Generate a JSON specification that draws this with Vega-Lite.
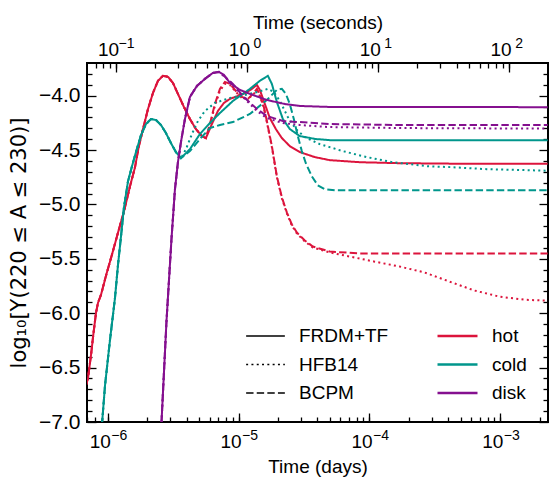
{
"$schema":"https://vega.github.io/schema/vega-lite/v6.json",
"width":461,"height":359,
"autosize":"none",
"padding":{"left":87,"top":63,"right":1,"bottom":58},
"config":{"view":{"stroke":"black","strokeWidth":2},
 "axis":{"grid":false,"domain":false,"labelFont":"Liberation Sans","titleFont":"Liberation Sans","labelFontSize":19,"titleFontSize":19,"titleFontWeight":"normal","labelColor":"black","titleColor":"black","tickColor":"black","tickWidth":1.3,"labelFlush":false,"labelOverlap":false,"labelBound":false},
 "legend":{"labelFont":"Liberation Sans","labelFontSize":19,"labelColor":"black","padding":0}},
"data":{"values":[
{"t":6.83e-7,"y":-6.660,"m":"FRDM+TF","c":"hot"},{"t":7.07e-7,"y":-6.595,"m":"FRDM+TF","c":"hot"},{"t":7.456e-7,"y":-6.383,"m":"FRDM+TF","c":"hot"},{"t":7.723e-7,"y":-6.217,"m":"FRDM+TF","c":"hot"},{"t":8.14e-7,"y":-5.995,"m":"FRDM+TF","c":"hot"},{"t":8.43e-7,"y":-5.904,"m":"FRDM+TF","c":"hot"},{"t":8.89e-7,"y":-5.830,"m":"FRDM+TF","c":"hot"},{"t":9.70e-7,"y":-5.655,"m":"FRDM+TF","c":"hot"},{"t":1.078e-6,"y":-5.461,"m":"FRDM+TF","c":"hot"},{"t":1.199e-6,"y":-5.258,"m":"FRDM+TF","c":"hot"},{"t":1.331e-6,"y":-5.064,"m":"FRDM+TF","c":"hot"},{"t":1.480e-6,"y":-4.833,"m":"FRDM+TF","c":"hot"},{"t":1.616e-6,"y":-4.658,"m":"FRDM+TF","c":"hot"},{"t":1.724e-6,"y":-4.473,"m":"FRDM+TF","c":"hot"},{"t":1.860e-6,"y":-4.307,"m":"FRDM+TF","c":"hot"},{"t":2.031e-6,"y":-4.123,"m":"FRDM+TF","c":"hot"},{"t":2.217e-6,"y":-3.975,"m":"FRDM+TF","c":"hot"},{"t":2.421e-6,"y":-3.864,"m":"FRDM+TF","c":"hot"},{"t":2.643e-6,"y":-3.818,"m":"FRDM+TF","c":"hot"},{"t":2.886e-6,"y":-3.827,"m":"FRDM+TF","c":"hot"},{"t":3.151e-6,"y":-3.883,"m":"FRDM+TF","c":"hot"},{"t":3.440e-6,"y":-3.984,"m":"FRDM+TF","c":"hot"},{"t":3.823e-6,"y":-4.104,"m":"FRDM+TF","c":"hot"},{"t":4.249e-6,"y":-4.215,"m":"FRDM+TF","c":"hot"},{"t":4.721e-6,"y":-4.307,"m":"FRDM+TF","c":"hot"},{"t":5.246e-6,"y":-4.372,"m":"FRDM+TF","c":"hot"},{"t":5.628e-6,"y":-4.390,"m":"FRDM+TF","c":"hot"},
{"t":6.253e-6,"y":-4.261,"m":"FRDM+TF","c":"hot"},{"t":6.950e-6,"y":-4.141,"m":"FRDM+TF","c":"hot"},{"t":7.723e-6,"y":-4.067,"m":"FRDM+TF","c":"hot"},{"t":8.582e-6,"y":-4.030,"m":"FRDM+TF","c":"hot"},{"t":9.878e-6,"y":-4.003,"m":"FRDM+TF","c":"hot"},{"t":1.137e-5,"y":-3.975,"m":"FRDM+TF","c":"hot"},{"t":1.263e-5,"y":-3.938,"m":"FRDM+TF","c":"hot"},{"t":1.379e-5,"y":-3.901,"m":"FRDM+TF","c":"hot"},{"t":1.454e-5,"y":-3.947,"m":"FRDM+TF","c":"hot"},{"t":1.588e-5,"y":-4.077,"m":"FRDM+TF","c":"hot"},{"t":1.733e-5,"y":-4.206,"m":"FRDM+TF","c":"hot"},{"t":1.926e-5,"y":-4.307,"m":"FRDM+TF","c":"hot"},{"t":2.141e-5,"y":-4.390,"m":"FRDM+TF","c":"hot"},{"t":2.463e-5,"y":-4.464,"m":"FRDM+TF","c":"hot"},{"t":2.937e-5,"y":-4.519,"m":"FRDM+TF","c":"hot"},{"t":3.823e-5,"y":-4.565,"m":"FRDM+TF","c":"hot"},{"t":4.977e-5,"y":-4.593,"m":"FRDM+TF","c":"hot"},{"t":8.43e-5,"y":-4.612,"m":"FRDM+TF","c":"hot"},{"t":1.703e-4,"y":-4.621,"m":"FRDM+TF","c":"hot"},{"t":4.102e-4,"y":-4.625,"m":"FRDM+TF","c":"hot"},{"t":2.3e-3,"y":-4.625,"m":"FRDM+TF","c":"hot"},
{"t":6.83e-7,"y":-6.660,"m":"BCPM","c":"hot"},{"t":7.07e-7,"y":-6.595,"m":"BCPM","c":"hot"},{"t":7.456e-7,"y":-6.383,"m":"BCPM","c":"hot"},{"t":7.723e-7,"y":-6.217,"m":"BCPM","c":"hot"},{"t":8.14e-7,"y":-5.995,"m":"BCPM","c":"hot"},{"t":8.43e-7,"y":-5.904,"m":"BCPM","c":"hot"},{"t":8.89e-7,"y":-5.830,"m":"BCPM","c":"hot"},{"t":9.70e-7,"y":-5.655,"m":"BCPM","c":"hot"},{"t":1.078e-6,"y":-5.461,"m":"BCPM","c":"hot"},{"t":1.199e-6,"y":-5.258,"m":"BCPM","c":"hot"},{"t":1.331e-6,"y":-5.064,"m":"BCPM","c":"hot"},{"t":1.480e-6,"y":-4.833,"m":"BCPM","c":"hot"},{"t":1.616e-6,"y":-4.658,"m":"BCPM","c":"hot"},{"t":1.724e-6,"y":-4.473,"m":"BCPM","c":"hot"},{"t":1.860e-6,"y":-4.307,"m":"BCPM","c":"hot"},{"t":2.031e-6,"y":-4.123,"m":"BCPM","c":"hot"},{"t":2.217e-6,"y":-3.975,"m":"BCPM","c":"hot"},{"t":2.421e-6,"y":-3.864,"m":"BCPM","c":"hot"},{"t":2.643e-6,"y":-3.818,"m":"BCPM","c":"hot"},{"t":2.886e-6,"y":-3.827,"m":"BCPM","c":"hot"},{"t":3.151e-6,"y":-3.883,"m":"BCPM","c":"hot"},{"t":3.440e-6,"y":-3.984,"m":"BCPM","c":"hot"},{"t":3.823e-6,"y":-4.104,"m":"BCPM","c":"hot"},{"t":4.249e-6,"y":-4.215,"m":"BCPM","c":"hot"},{"t":4.721e-6,"y":-4.307,"m":"BCPM","c":"hot"},{"t":5.246e-6,"y":-4.372,"m":"BCPM","c":"hot"},{"t":5.628e-6,"y":-4.390,"m":"BCPM","c":"hot"},
{"t":6.037e-6,"y":-4.261,"m":"BCPM","c":"hot"},{"t":6.591e-6,"y":-4.077,"m":"BCPM","c":"hot"},{"t":7.199e-6,"y":-3.938,"m":"BCPM","c":"hot"},{"t":7.860e-6,"y":-3.874,"m":"BCPM","c":"hot"},{"t":8.582e-6,"y":-3.892,"m":"BCPM","c":"hot"},{"t":9.537e-6,"y":-3.957,"m":"BCPM","c":"hot"},{"t":1.060e-5,"y":-4.012,"m":"BCPM","c":"hot"},{"t":1.178e-5,"y":-4.030,"m":"BCPM","c":"hot"},{"t":1.286e-5,"y":-3.984,"m":"BCPM","c":"hot"},{"t":1.379e-5,"y":-3.938,"m":"BCPM","c":"hot"},{"t":1.454e-5,"y":-3.994,"m":"BCPM","c":"hot"},{"t":1.560e-5,"y":-4.104,"m":"BCPM","c":"hot"},{"t":1.644e-5,"y":-4.233,"m":"BCPM","c":"hot"},{"t":1.796e-5,"y":-4.464,"m":"BCPM","c":"hot"},{"t":1.961e-5,"y":-4.741,"m":"BCPM","c":"hot"},{"t":2.141e-5,"y":-4.934,"m":"BCPM","c":"hot"},{"t":2.337e-5,"y":-5.073,"m":"BCPM","c":"hot"},{"t":2.552e-5,"y":-5.184,"m":"BCPM","c":"hot"},{"t":2.786e-5,"y":-5.258,"m":"BCPM","c":"hot"},{"t":3.207e-5,"y":-5.331,"m":"BCPM","c":"hot"},{"t":3.692e-5,"y":-5.387,"m":"BCPM","c":"hot"},{"t":4.977e-5,"y":-5.433,"m":"BCPM","c":"hot"},{"t":8.43e-5,"y":-5.451,"m":"BCPM","c":"hot"},{"t":2.3e-3,"y":-5.451,"m":"BCPM","c":"hot"},
{"t":6.83e-7,"y":-6.660,"m":"HFB14","c":"hot"},{"t":7.07e-7,"y":-6.595,"m":"HFB14","c":"hot"},{"t":7.456e-7,"y":-6.383,"m":"HFB14","c":"hot"},{"t":7.723e-7,"y":-6.217,"m":"HFB14","c":"hot"},{"t":8.14e-7,"y":-5.995,"m":"HFB14","c":"hot"},{"t":8.43e-7,"y":-5.904,"m":"HFB14","c":"hot"},{"t":8.89e-7,"y":-5.830,"m":"HFB14","c":"hot"},{"t":9.70e-7,"y":-5.655,"m":"HFB14","c":"hot"},{"t":1.078e-6,"y":-5.461,"m":"HFB14","c":"hot"},{"t":1.199e-6,"y":-5.258,"m":"HFB14","c":"hot"},{"t":1.331e-6,"y":-5.064,"m":"HFB14","c":"hot"},{"t":1.480e-6,"y":-4.833,"m":"HFB14","c":"hot"},{"t":1.616e-6,"y":-4.658,"m":"HFB14","c":"hot"},{"t":1.724e-6,"y":-4.473,"m":"HFB14","c":"hot"},{"t":1.860e-6,"y":-4.307,"m":"HFB14","c":"hot"},{"t":2.031e-6,"y":-4.123,"m":"HFB14","c":"hot"},{"t":2.217e-6,"y":-3.975,"m":"HFB14","c":"hot"},{"t":2.421e-6,"y":-3.864,"m":"HFB14","c":"hot"},{"t":2.643e-6,"y":-3.818,"m":"HFB14","c":"hot"},{"t":2.886e-6,"y":-3.827,"m":"HFB14","c":"hot"},{"t":3.151e-6,"y":-3.883,"m":"HFB14","c":"hot"},{"t":3.440e-6,"y":-3.984,"m":"HFB14","c":"hot"},{"t":3.823e-6,"y":-4.104,"m":"HFB14","c":"hot"},{"t":4.249e-6,"y":-4.215,"m":"HFB14","c":"hot"},{"t":4.721e-6,"y":-4.307,"m":"HFB14","c":"hot"},{"t":5.246e-6,"y":-4.372,"m":"HFB14","c":"hot"},{"t":5.628e-6,"y":-4.390,"m":"HFB14","c":"hot"},
{"t":6.037e-6,"y":-4.270,"m":"HFB14","c":"hot"},{"t":6.591e-6,"y":-4.095,"m":"HFB14","c":"hot"},{"t":7.199e-6,"y":-3.957,"m":"HFB14","c":"hot"},{"t":7.860e-6,"y":-3.892,"m":"HFB14","c":"hot"},{"t":8.582e-6,"y":-3.901,"m":"HFB14","c":"hot"},{"t":9.537e-6,"y":-3.966,"m":"HFB14","c":"hot"},{"t":1.060e-5,"y":-4.021,"m":"HFB14","c":"hot"},{"t":1.178e-5,"y":-4.030,"m":"HFB14","c":"hot"},{"t":1.286e-5,"y":-3.994,"m":"HFB14","c":"hot"},{"t":1.379e-5,"y":-3.947,"m":"HFB14","c":"hot"},{"t":1.454e-5,"y":-4.003,"m":"HFB14","c":"hot"},{"t":1.560e-5,"y":-4.113,"m":"HFB14","c":"hot"},{"t":1.644e-5,"y":-4.243,"m":"HFB14","c":"hot"},{"t":1.796e-5,"y":-4.473,"m":"HFB14","c":"hot"},{"t":1.961e-5,"y":-4.750,"m":"HFB14","c":"hot"},{"t":2.141e-5,"y":-4.943,"m":"HFB14","c":"hot"},{"t":2.337e-5,"y":-5.082,"m":"HFB14","c":"hot"},{"t":2.552e-5,"y":-5.193,"m":"HFB14","c":"hot"},{"t":2.786e-5,"y":-5.267,"m":"HFB14","c":"hot"},{"t":3.207e-5,"y":-5.340,"m":"HFB14","c":"hot"},{"t":3.692e-5,"y":-5.396,"m":"HFB14","c":"hot"},{"t":4.977e-5,"y":-5.442,"m":"HFB14","c":"hot"},{"t":7.07e-5,"y":-5.479,"m":"HFB14","c":"hot"},{"t":1.098e-4,"y":-5.526,"m":"HFB14","c":"hot"},{"t":1.703e-4,"y":-5.571,"m":"HFB14","c":"hot"},{"t":2.643e-4,"y":-5.626,"m":"HFB14","c":"hot"},{"t":4.102e-4,"y":-5.710,"m":"HFB14","c":"hot"},{"t":6.364e-4,"y":-5.792,"m":"HFB14","c":"hot"},{"t":9.88e-4,"y":-5.848,"m":"HFB14","c":"hot"},{"t":1.533e-3,"y":-5.876,"m":"HFB14","c":"hot"},{"t":2.3e-3,"y":-5.885,"m":"HFB14","c":"hot"},
{"t":8.89e-7,"y":-7.13,"m":"FRDM+TF","c":"cold"},{"t":9.54e-7,"y":-6.660,"m":"FRDM+TF","c":"cold"},{"t":1.041e-6,"y":-6.245,"m":"FRDM+TF","c":"cold"},{"t":1.137e-6,"y":-5.857,"m":"FRDM+TF","c":"cold"},{"t":1.199e-6,"y":-5.552,"m":"FRDM+TF","c":"cold"},{"t":1.263e-6,"y":-5.294,"m":"FRDM+TF","c":"cold"},{"t":1.331e-6,"y":-5.027,"m":"FRDM+TF","c":"cold"},{"t":1.429e-6,"y":-4.787,"m":"FRDM+TF","c":"cold"},{"t":1.533e-6,"y":-4.649,"m":"FRDM+TF","c":"cold"},{"t":1.644e-6,"y":-4.519,"m":"FRDM+TF","c":"cold"},{"t":1.796e-6,"y":-4.363,"m":"FRDM+TF","c":"cold"},{"t":1.961e-6,"y":-4.261,"m":"FRDM+TF","c":"cold"},{"t":2.141e-6,"y":-4.215,"m":"FRDM+TF","c":"cold"},{"t":2.337e-6,"y":-4.224,"m":"FRDM+TF","c":"cold"},{"t":2.552e-6,"y":-4.270,"m":"FRDM+TF","c":"cold"},{"t":2.786e-6,"y":-4.344,"m":"FRDM+TF","c":"cold"},{"t":3.042e-6,"y":-4.436,"m":"FRDM+TF","c":"cold"},{"t":3.321e-6,"y":-4.519,"m":"FRDM+TF","c":"cold"},{"t":3.627e-6,"y":-4.575,"m":"FRDM+TF","c":"cold"},
{"t":4.249e-6,"y":-4.492,"m":"FRDM+TF","c":"cold"},{"t":5.065e-6,"y":-4.353,"m":"FRDM+TF","c":"cold"},{"t":6.037e-6,"y":-4.252,"m":"FRDM+TF","c":"cold"},{"t":7.199e-6,"y":-4.160,"m":"FRDM+TF","c":"cold"},{"t":9.05e-6,"y":-4.049,"m":"FRDM+TF","c":"cold"},{"t":1.220e-5,"y":-3.938,"m":"FRDM+TF","c":"cold"},{"t":1.454e-5,"y":-3.864,"m":"FRDM+TF","c":"cold"},{"t":1.674e-5,"y":-3.818,"m":"FRDM+TF","c":"cold"},{"t":1.796e-5,"y":-3.892,"m":"FRDM+TF","c":"cold"},{"t":1.961e-5,"y":-4.058,"m":"FRDM+TF","c":"cold"},{"t":2.179e-5,"y":-4.215,"m":"FRDM+TF","c":"cold"},{"t":2.463e-5,"y":-4.307,"m":"FRDM+TF","c":"cold"},{"t":2.937e-5,"y":-4.372,"m":"FRDM+TF","c":"cold"},{"t":3.892e-5,"y":-4.399,"m":"FRDM+TF","c":"cold"},{"t":4.977e-5,"y":-4.409,"m":"FRDM+TF","c":"cold"},{"t":2.3e-3,"y":-4.409,"m":"FRDM+TF","c":"cold"},
{"t":8.89e-7,"y":-7.13,"m":"HFB14","c":"cold"},{"t":9.54e-7,"y":-6.660,"m":"HFB14","c":"cold"},{"t":1.041e-6,"y":-6.245,"m":"HFB14","c":"cold"},{"t":1.137e-6,"y":-5.857,"m":"HFB14","c":"cold"},{"t":1.199e-6,"y":-5.552,"m":"HFB14","c":"cold"},{"t":1.263e-6,"y":-5.294,"m":"HFB14","c":"cold"},{"t":1.331e-6,"y":-5.027,"m":"HFB14","c":"cold"},{"t":1.429e-6,"y":-4.787,"m":"HFB14","c":"cold"},{"t":1.533e-6,"y":-4.649,"m":"HFB14","c":"cold"},{"t":1.644e-6,"y":-4.519,"m":"HFB14","c":"cold"},{"t":1.796e-6,"y":-4.363,"m":"HFB14","c":"cold"},{"t":1.961e-6,"y":-4.261,"m":"HFB14","c":"cold"},{"t":2.141e-6,"y":-4.215,"m":"HFB14","c":"cold"},{"t":2.337e-6,"y":-4.224,"m":"HFB14","c":"cold"},{"t":2.552e-6,"y":-4.270,"m":"HFB14","c":"cold"},{"t":2.786e-6,"y":-4.344,"m":"HFB14","c":"cold"},{"t":3.042e-6,"y":-4.436,"m":"HFB14","c":"cold"},{"t":3.321e-6,"y":-4.519,"m":"HFB14","c":"cold"},{"t":3.627e-6,"y":-4.575,"m":"HFB14","c":"cold"},
{"t":3.961e-6,"y":-4.492,"m":"HFB14","c":"cold"},{"t":4.401e-6,"y":-4.353,"m":"HFB14","c":"cold"},{"t":4.890e-6,"y":-4.233,"m":"HFB14","c":"cold"},{"t":5.530e-6,"y":-4.141,"m":"HFB14","c":"cold"},{"t":6.591e-6,"y":-4.067,"m":"HFB14","c":"cold"},{"t":8.582e-6,"y":-4.021,"m":"HFB14","c":"cold"},{"t":1.117e-5,"y":-3.994,"m":"HFB14","c":"cold"},{"t":1.404e-5,"y":-3.966,"m":"HFB14","c":"cold"},{"t":1.674e-5,"y":-3.938,"m":"HFB14","c":"cold"},{"t":1.860e-5,"y":-3.966,"m":"HFB14","c":"cold"},{"t":2.067e-5,"y":-4.049,"m":"HFB14","c":"cold"},{"t":2.378e-5,"y":-4.196,"m":"HFB14","c":"cold"},{"t":2.738e-5,"y":-4.307,"m":"HFB14","c":"cold"},{"t":3.207e-5,"y":-4.381,"m":"HFB14","c":"cold"},{"t":4.174e-5,"y":-4.446,"m":"HFB14","c":"cold"},{"t":6.253e-5,"y":-4.510,"m":"HFB14","c":"cold"},{"t":9.54e-5,"y":-4.565,"m":"HFB14","c":"cold"},{"t":1.506e-4,"y":-4.612,"m":"HFB14","c":"cold"},{"t":2.786e-4,"y":-4.649,"m":"HFB14","c":"cold"},{"t":4.324e-4,"y":-4.658,"m":"HFB14","c":"cold"},{"t":7.86e-4,"y":-4.676,"m":"HFB14","c":"cold"},{"t":2.3e-3,"y":-4.690,"m":"HFB14","c":"cold"},
{"t":8.89e-7,"y":-7.13,"m":"BCPM","c":"cold"},{"t":9.54e-7,"y":-6.660,"m":"BCPM","c":"cold"},{"t":1.041e-6,"y":-6.245,"m":"BCPM","c":"cold"},{"t":1.137e-6,"y":-5.857,"m":"BCPM","c":"cold"},{"t":1.199e-6,"y":-5.552,"m":"BCPM","c":"cold"},{"t":1.263e-6,"y":-5.294,"m":"BCPM","c":"cold"},{"t":1.331e-6,"y":-5.027,"m":"BCPM","c":"cold"},{"t":1.429e-6,"y":-4.787,"m":"BCPM","c":"cold"},{"t":1.533e-6,"y":-4.649,"m":"BCPM","c":"cold"},{"t":1.644e-6,"y":-4.519,"m":"BCPM","c":"cold"},{"t":1.796e-6,"y":-4.363,"m":"BCPM","c":"cold"},{"t":1.961e-6,"y":-4.261,"m":"BCPM","c":"cold"},{"t":2.141e-6,"y":-4.215,"m":"BCPM","c":"cold"},{"t":2.337e-6,"y":-4.224,"m":"BCPM","c":"cold"},{"t":2.552e-6,"y":-4.270,"m":"BCPM","c":"cold"},{"t":2.786e-6,"y":-4.344,"m":"BCPM","c":"cold"},{"t":3.042e-6,"y":-4.436,"m":"BCPM","c":"cold"},{"t":3.321e-6,"y":-4.519,"m":"BCPM","c":"cold"},{"t":3.627e-6,"y":-4.575,"m":"BCPM","c":"cold"},
{"t":4.249e-6,"y":-4.510,"m":"BCPM","c":"cold"},{"t":5.065e-6,"y":-4.399,"m":"BCPM","c":"cold"},{"t":6.037e-6,"y":-4.298,"m":"BCPM","c":"cold"},{"t":7.199e-6,"y":-4.270,"m":"BCPM","c":"cold"},{"t":9.05e-6,"y":-4.243,"m":"BCPM","c":"cold"},{"t":1.220e-5,"y":-4.169,"m":"BCPM","c":"cold"},{"t":1.644e-5,"y":-4.040,"m":"BCPM","c":"cold"},{"t":1.961e-5,"y":-3.947,"m":"BCPM","c":"cold"},{"t":2.141e-5,"y":-3.938,"m":"BCPM","c":"cold"},{"t":2.297e-5,"y":-3.984,"m":"BCPM","c":"cold"},{"t":2.463e-5,"y":-4.077,"m":"BCPM","c":"cold"},{"t":2.643e-5,"y":-4.215,"m":"BCPM","c":"cold"},{"t":2.836e-5,"y":-4.372,"m":"BCPM","c":"cold"},{"t":3.042e-5,"y":-4.510,"m":"BCPM","c":"cold"},{"t":3.264e-5,"y":-4.621,"m":"BCPM","c":"cold"},{"t":3.627e-5,"y":-4.741,"m":"BCPM","c":"cold"},{"t":4.029e-5,"y":-4.824,"m":"BCPM","c":"cold"},{"t":4.558e-5,"y":-4.861,"m":"BCPM","c":"cold"},{"t":5.434e-5,"y":-4.870,"m":"BCPM","c":"cold"},{"t":2.3e-3,"y":-4.870,"m":"BCPM","c":"cold"},
{"t":2.552e-6,"y":-7.102,"m":"FRDM+TF","c":"disk"},{"t":2.811e-6,"y":-6.078,"m":"FRDM+TF","c":"disk"},{"t":3.069e-6,"y":-5.322,"m":"FRDM+TF","c":"disk"},{"t":3.264e-6,"y":-4.861,"m":"FRDM+TF","c":"disk"},{"t":3.440e-6,"y":-4.612,"m":"FRDM+TF","c":"disk"},{"t":3.627e-6,"y":-4.427,"m":"FRDM+TF","c":"disk"},{"t":3.892e-6,"y":-4.215,"m":"FRDM+TF","c":"disk"},{"t":4.249e-6,"y":-4.012,"m":"FRDM+TF","c":"disk"},{"t":4.805e-6,"y":-3.911,"m":"FRDM+TF","c":"disk"},{"t":5.530e-6,"y":-3.846,"m":"FRDM+TF","c":"disk"},{"t":6.364e-6,"y":-3.791,"m":"FRDM+TF","c":"disk"},{"t":7.07e-6,"y":-3.782,"m":"FRDM+TF","c":"disk"},
{"t":7.723e-6,"y":-3.809,"m":"FRDM+TF","c":"disk"},{"t":8.582e-6,"y":-3.883,"m":"FRDM+TF","c":"disk"},{"t":1.023e-5,"y":-3.947,"m":"FRDM+TF","c":"disk"},{"t":1.220e-5,"y":-3.984,"m":"FRDM+TF","c":"disk"},{"t":1.644e-5,"y":-4.040,"m":"FRDM+TF","c":"disk"},{"t":2.257e-5,"y":-4.077,"m":"FRDM+TF","c":"disk"},{"t":2.937e-5,"y":-4.095,"m":"FRDM+TF","c":"disk"},{"t":4.977e-5,"y":-4.104,"m":"FRDM+TF","c":"disk"},{"t":1.703e-4,"y":-4.104,"m":"FRDM+TF","c":"disk"},{"t":2.3e-3,"y":-4.106,"m":"FRDM+TF","c":"disk"},
{"t":2.552e-6,"y":-7.102,"m":"BCPM","c":"disk"},{"t":2.811e-6,"y":-6.078,"m":"BCPM","c":"disk"},{"t":3.069e-6,"y":-5.322,"m":"BCPM","c":"disk"},{"t":3.264e-6,"y":-4.861,"m":"BCPM","c":"disk"},{"t":3.440e-6,"y":-4.612,"m":"BCPM","c":"disk"},{"t":3.627e-6,"y":-4.427,"m":"BCPM","c":"disk"},{"t":3.892e-6,"y":-4.215,"m":"BCPM","c":"disk"},{"t":4.249e-6,"y":-4.012,"m":"BCPM","c":"disk"},{"t":4.805e-6,"y":-3.911,"m":"BCPM","c":"disk"},{"t":5.530e-6,"y":-3.846,"m":"BCPM","c":"disk"},{"t":6.364e-6,"y":-3.791,"m":"BCPM","c":"disk"},{"t":7.07e-6,"y":-3.782,"m":"BCPM","c":"disk"},
{"t":7.723e-6,"y":-3.818,"m":"BCPM","c":"disk"},{"t":9.05e-6,"y":-3.892,"m":"BCPM","c":"disk"},{"t":1.078e-5,"y":-4.003,"m":"BCPM","c":"disk"},{"t":1.379e-5,"y":-4.123,"m":"BCPM","c":"disk"},{"t":1.644e-5,"y":-4.187,"m":"BCPM","c":"disk"},{"t":2.179e-5,"y":-4.233,"m":"BCPM","c":"disk"},{"t":2.937e-5,"y":-4.243,"m":"BCPM","c":"disk"},{"t":4.977e-5,"y":-4.261,"m":"BCPM","c":"disk"},{"t":1.703e-4,"y":-4.270,"m":"BCPM","c":"disk"},{"t":2.3e-3,"y":-4.270,"m":"BCPM","c":"disk"},
{"t":2.552e-6,"y":-7.102,"m":"HFB14","c":"disk"},{"t":2.811e-6,"y":-6.078,"m":"HFB14","c":"disk"},{"t":3.069e-6,"y":-5.322,"m":"HFB14","c":"disk"},{"t":3.264e-6,"y":-4.861,"m":"HFB14","c":"disk"},{"t":3.440e-6,"y":-4.612,"m":"HFB14","c":"disk"},{"t":3.627e-6,"y":-4.427,"m":"HFB14","c":"disk"},{"t":3.892e-6,"y":-4.215,"m":"HFB14","c":"disk"},{"t":4.249e-6,"y":-4.012,"m":"HFB14","c":"disk"},{"t":4.805e-6,"y":-3.911,"m":"HFB14","c":"disk"},{"t":5.530e-6,"y":-3.846,"m":"HFB14","c":"disk"},{"t":6.364e-6,"y":-3.791,"m":"HFB14","c":"disk"},{"t":7.07e-6,"y":-3.782,"m":"HFB14","c":"disk"},
{"t":7.723e-6,"y":-3.818,"m":"HFB14","c":"disk"},{"t":9.05e-6,"y":-3.902,"m":"HFB14","c":"disk"},{"t":1.078e-5,"y":-4.012,"m":"HFB14","c":"disk"},{"t":1.379e-5,"y":-4.141,"m":"HFB14","c":"disk"},{"t":1.644e-5,"y":-4.206,"m":"HFB14","c":"disk"},{"t":2.179e-5,"y":-4.252,"m":"HFB14","c":"disk"},{"t":2.937e-5,"y":-4.270,"m":"HFB14","c":"disk"},{"t":4.977e-5,"y":-4.289,"m":"HFB14","c":"disk"},{"t":1.703e-4,"y":-4.298,"m":"HFB14","c":"disk"},{"t":2.3e-3,"y":-4.303,"m":"HFB14","c":"disk"}
]},
"layer":[
{"mark":{"type":"line","clip":true,"strokeWidth":2},
 "encoding":{
  "x":{"field":"t","type":"quantitative","scale":{"type":"log","domain":[6.944e-7,2.3148e-3],"nice":false},
   "axis":{"orient":"bottom","values":[1e-6,1e-5,1e-4,1e-3],"labelExpr":"'10'","labelOffset":-8,"tickSize":-9,"labelPadding":19,"title":"Time (days)","titlePadding":6}},
  "y":{"field":"y","type":"quantitative","scale":{"domain":[-7,-3.7],"nice":false,"zero":false},
   "axis":{"orient":"left","values":[-7,-6.5,-6,-5.5,-5,-4.5,-4],"format":".1f","labelFontSize":21,"tickSize":-9,"labelPadding":16,"title":"log₁₀[Y(220 ≤ A ≤ 230)]","titleFont":"DejaVu Sans","titleFontSize":21,"titlePadding":9}},
  "color":{"field":"c","type":"nominal","scale":{"domain":["hot","cold","disk"],"range":["#dc143c","#00968c","#85108f"]},
   "legend":{"orient":"none","legendX":349,"legendY":261,"title":null,"symbolType":"stroke","symbolSize":1600,"symbolStrokeWidth":2.5,"labelOffset":13,"clipHeight":24,"rowPadding":4.5,"symbolDash":[1,0]}},
  "strokeDash":{"field":"m","type":"nominal","scale":{"domain":["FRDM+TF","HFB14","BCPM"],"range":[[1,0],[2,3.3],[7.4,3.2]]},
   "legend":{"orient":"none","legendX":158,"legendY":261,"title":null,"symbolType":"stroke","symbolSize":1500,"symbolStrokeWidth":1.5,"symbolStrokeColor":"black","labelOffset":13,"clipHeight":24,"rowPadding":4.5}}
 }},
{"mark":{"type":"point","opacity":0},
 "encoding":{
  "x":{"field":"t","type":"quantitative","scale":{"type":"log","domain":[6.944e-7,2.3148e-3],"nice":false},
   "axis":{"orient":"bottom","values":[7e-7,8e-7,9e-7,1e-6,2e-6,3e-6,4e-6,5e-6,6e-6,7e-6,8e-6,9e-6,1e-5,2e-5,3e-5,4e-5,5e-5,6e-5,7e-5,8e-5,9e-5,1e-4,2e-4,3e-4,4e-4,5e-4,6e-4,7e-4,8e-4,9e-4,1e-3,2e-3],"labelExpr":"abs(log(datum.value)/LN10 - round(log(datum.value)/LN10)) < 0.001 ? '−' + abs(round(log(datum.value)/LN10)) : ''","labelFontSize":14,"labelOffset":11,"labelPadding":11,"tickSize":-5,"title":null}},
  "y":{"field":"y","type":"quantitative","scale":{"domain":[-7,-3.7],"nice":false,"zero":false},
   "axis":{"orient":"left","values":[-6.9,-6.8,-6.7,-6.6,-6.4,-6.3,-6.2,-6.1,-5.9,-5.8,-5.7,-5.6,-5.4,-5.3,-5.2,-5.1,-4.9,-4.8,-4.7,-4.6,-4.4,-4.3,-4.2,-4.1,-3.9,-3.8],"labels":false,"tickSize":-5,"title":null}}
 }},
{"mark":{"type":"point","opacity":0},
 "encoding":{
  "x":{"field":"t","type":"quantitative","scale":{"type":"log","domain":[6.944e-7,2.3148e-3],"nice":false},
   "axis":{"orient":"top","values":[1.1574e-6,1.1574e-5,1.1574e-4,1.1574e-3],"labelExpr":"'10'","labelOffset":-8,"tickSize":-9,"labelPadding":13,"title":"Time (seconds)","titlePadding":8}},
  "y":{"field":"y","type":"quantitative","scale":{"domain":[-7,-3.7],"nice":false,"zero":false},
   "axis":{"orient":"right","values":[-7,-6.5,-6,-5.5,-5,-4.5,-4],"labels":false,"tickSize":-9,"title":null}}
 }},
{"mark":{"type":"point","opacity":0},
 "encoding":{
  "x":{"field":"t","type":"quantitative","scale":{"type":"log","domain":[6.944e-7,2.3148e-3],"nice":false},
   "axis":{"orient":"top","values":[8.102e-7,9.259e-7,1.0417e-6,1.1574e-6,2.3148e-6,3.4722e-6,4.6296e-6,5.787e-6,6.9444e-6,8.1019e-6,9.2593e-6,1.04167e-5,1.1574e-5,2.3148e-5,3.4722e-5,4.6296e-5,5.787e-5,6.9444e-5,8.1019e-5,9.2593e-5,1.04167e-4,1.1574e-4,2.3148e-4,3.4722e-4,4.6296e-4,5.787e-4,6.9444e-4,8.1019e-4,9.2593e-4,1.04167e-3,1.1574e-3],"labelExpr":"abs(log(datum.value*86400)/LN10 - round(log(datum.value*86400)/LN10)) < 0.001 ? (round(log(datum.value*86400)/LN10) < 0 ? '−' + abs(round(log(datum.value*86400)/LN10)) : '' + round(log(datum.value*86400)/LN10)) : ''","labelFontSize":14,"labelOffset":10,"labelPadding":18,"tickSize":-5,"title":null}},
  "y":{"field":"y","type":"quantitative","scale":{"domain":[-7,-3.7],"nice":false,"zero":false},
   "axis":{"orient":"right","values":[-6.9,-6.8,-6.7,-6.6,-6.4,-6.3,-6.2,-6.1,-5.9,-5.8,-5.7,-5.6,-5.4,-5.3,-5.2,-5.1,-4.9,-4.8,-4.7,-4.6,-4.4,-4.3,-4.2,-4.1,-3.9,-3.8],"labels":false,"tickSize":-5,"title":null}}
 }}
],
"resolve":{"axis":{"x":"independent","y":"independent"}}
}
